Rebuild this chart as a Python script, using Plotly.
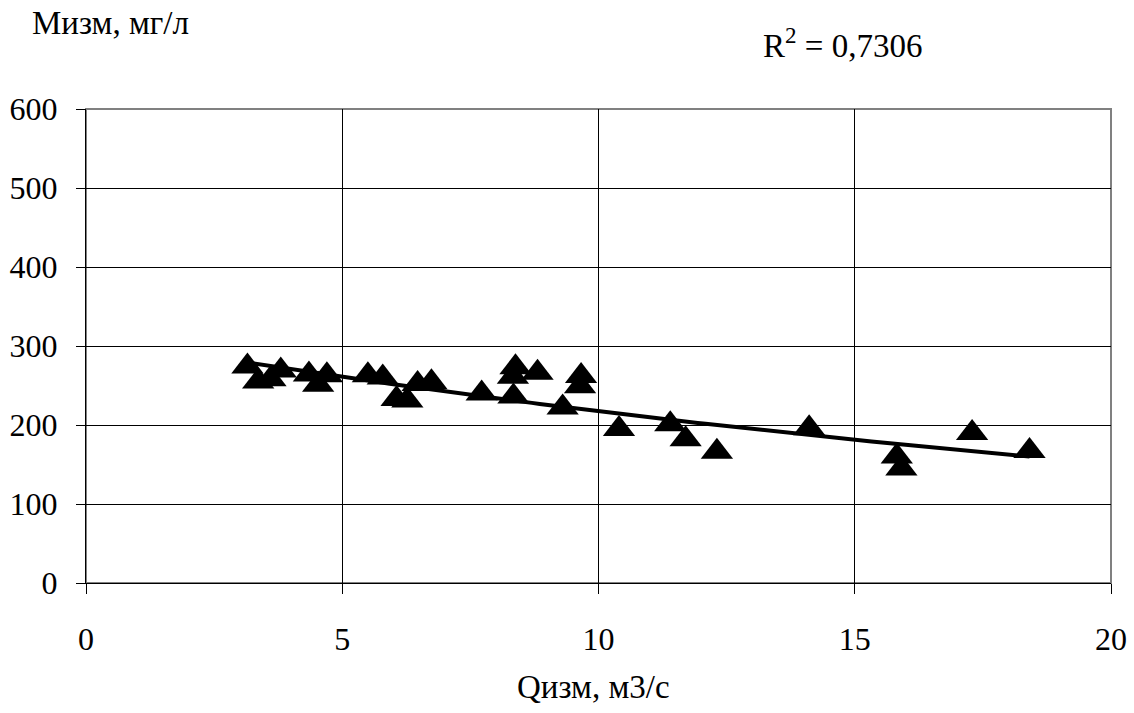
import numpy as np
import plotly.graph_objects as go

# Data
q_vals = [3.15, 3.36, 3.60, 3.80, 4.35, 4.53, 4.70, 5.50, 5.79, 6.06, 6.27, 6.47, 6.74,
          7.72, 8.38, 8.33, 8.34, 8.81, 9.30, 9.66, 9.64, 10.40, 11.40, 11.70, 12.31,
          14.11, 15.82, 15.91, 17.29, 18.41]
m_vals = [274, 255, 258, 269, 264, 251, 263, 263, 260, 233, 231, 252, 254,
          240, 273, 261, 236, 266, 222, 262, 249, 195, 201, 182, 166,
          196, 160, 145, 190, 167]

x_ticks = [0, 5, 10, 15, 20]
y_ticks = [0, 100, 200, 300, 400, 500, 600]
x_title = "Qизм, м3/с"
y_title = "Мизм, мг/л"
r2_label = "R<sup>2</sup> = 0,7306"

# Exponential trend line (as in spreadsheet trendline)
x_arr = np.array(q_vals)
y_arr = np.array(m_vals)
b, ln_a = np.polyfit(x_arr, np.log(y_arr), 1)
xt = np.linspace(x_arr.min(), x_arr.max(), 100)
yt = np.exp(ln_a) * np.exp(b * xt)

FONT = "Liberation Serif"
ann_font = dict(family=FONT, size=33, color="black")
tick_font = dict(family=FONT, size=32, color="black")

fig = go.Figure()
fig.add_trace(go.Scatter(x=q_vals, y=m_vals, mode="markers",
                         marker=dict(symbol="triangle-up", size=28, color="black"),
                         showlegend=False, cliponaxis=False))
fig.add_trace(go.Scatter(x=xt, y=yt, mode="lines",
                         line=dict(color="black", width=4),
                         showlegend=False))

fig.update_layout(
    width=1134, height=713,
    margin=dict(l=86, r=23, t=108.5, b=130),
    paper_bgcolor="white", plot_bgcolor="white",
    font=dict(family=FONT, size=32, color="black"),
    shapes=[dict(type="rect", xref="paper", yref="paper", x0=0, x1=1, y0=0, y1=1,
                 line=dict(color="#808080", width=2), layer="below")],
    annotations=[
        dict(text=y_title, xref="paper", yref="paper", x=-0.055, y=1.0, yshift=86,
             xanchor="left", yanchor="middle", showarrow=False, font=ann_font),
        dict(text=r2_label, xref="paper", yref="paper", x=0.7376, y=1.0, yshift=66,
             xanchor="center", yanchor="middle", showarrow=False, font=ann_font),
        dict(text=x_title, xref="paper", yref="paper", x=0.495, y=0, yshift=-104,
             xanchor="center", yanchor="middle", showarrow=False, font=ann_font),
    ],
)
fig.update_xaxes(range=[0, 20], tickvals=x_ticks, showgrid=True, gridcolor="black", gridwidth=1,
                 showline=True, linecolor="black", linewidth=1, ticks="outside", ticklen=10,
                 tickcolor="black", zeroline=False, ticklabelstandoff=18, automargin=False,
                 tickfont=tick_font)
fig.update_yaxes(range=[0, 600], tickvals=y_ticks, showgrid=True, gridcolor="black", gridwidth=1,
                 showline=True, linecolor="black", linewidth=1, ticks="outside", ticklen=9,
                 tickcolor="black", zeroline=False, ticklabelstandoff=12, automargin=False,
                 tickfont=tick_font)

fig.write_html("out.html")
